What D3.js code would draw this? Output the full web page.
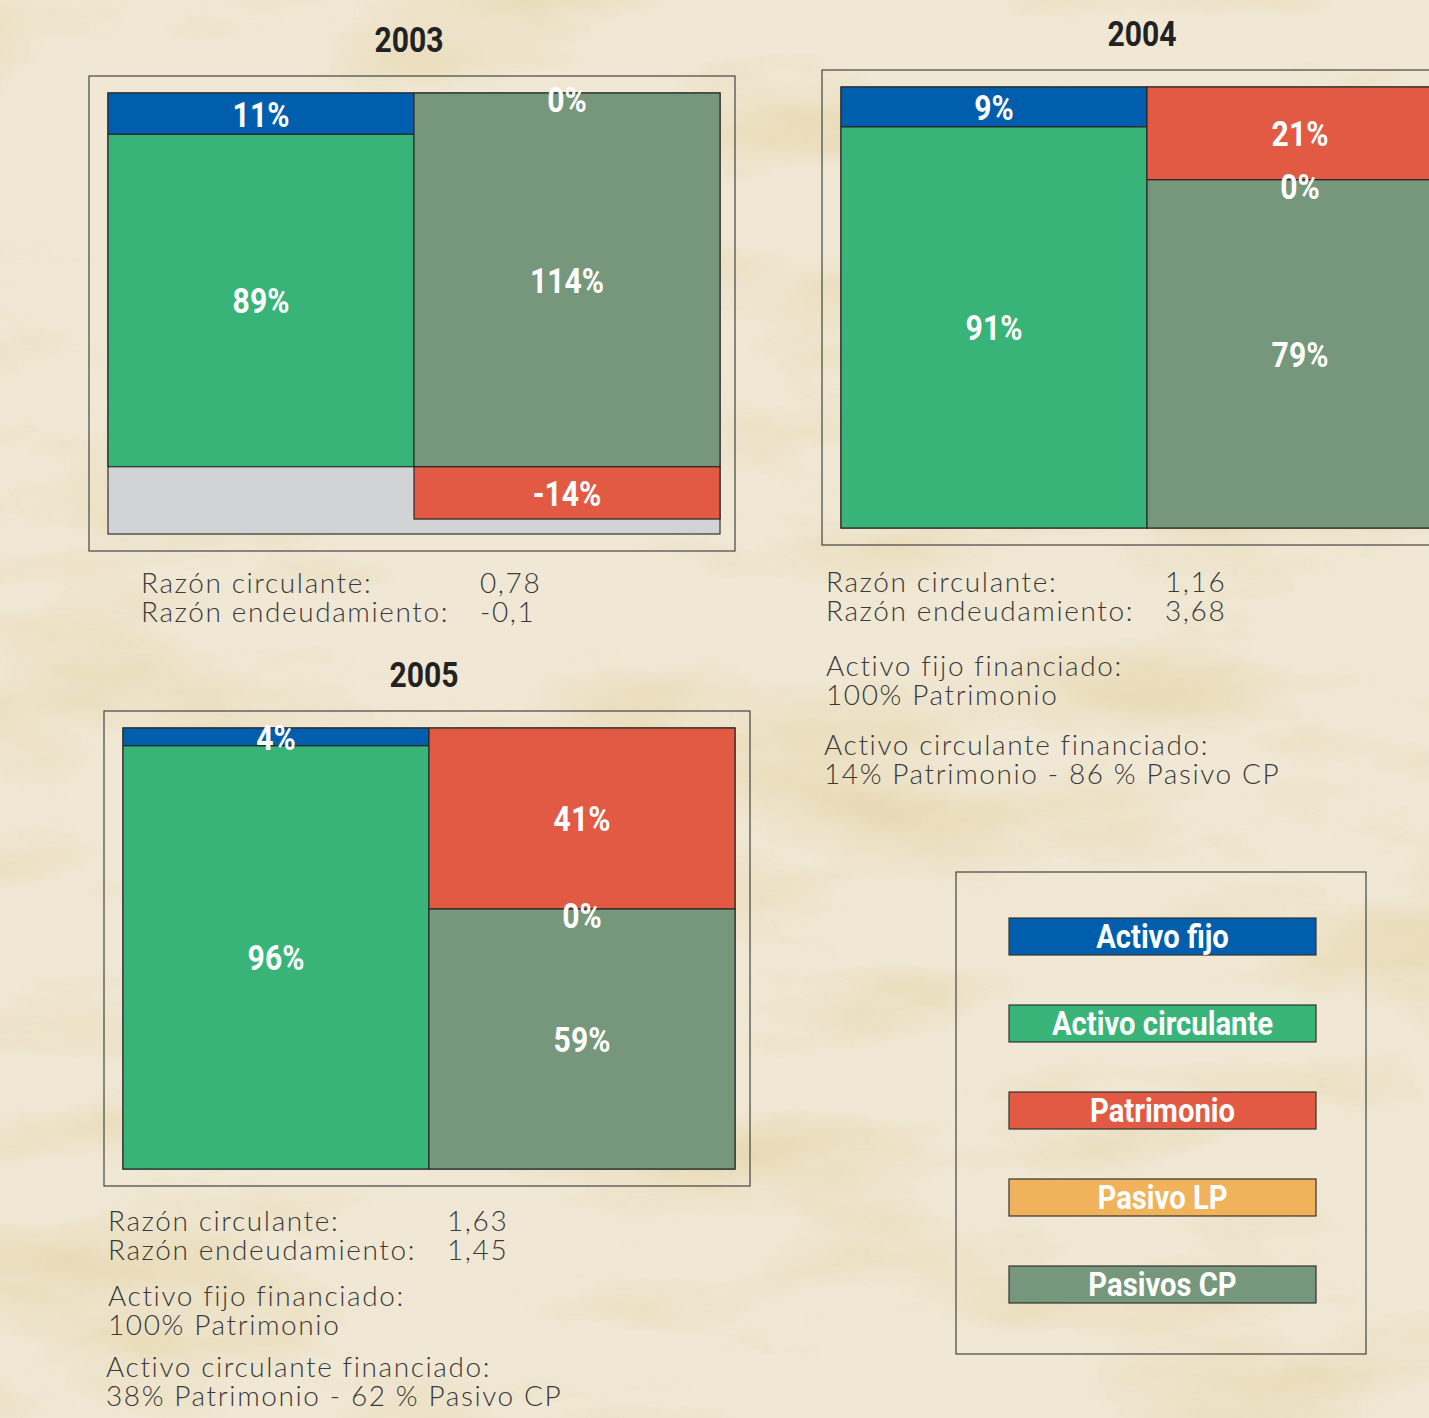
<!DOCTYPE html>
<html>
<head>
<meta charset="utf-8">
<script src="https://cdn.jsdelivr.net/npm/d3@7"></script>
<style>
  body { margin: 0; background: #efe6d2; overflow: hidden; }
  .cond { font-family: "Roboto", "Liberation Sans", sans-serif; font-weight: bold; }
  .body { font-family: "Lato", "Open Sans", sans-serif; font-weight: 300; fill: #3a3a3a; letter-spacing: 1.6px; font-size: 28px; }
</style>
</head>
<body>
<div id="chart"></div>
<script>
// data
const years = ["2003", "2004", "2005"];
const categories = ["Activo fijo", "Activo circulante", "Patrimonio", "Pasivo LP", "Pasivos CP"];
const activoFijo = [11, 9, 4];
const activoCirculante = [89, 91, 96];
const patrimonio = [-14, 21, 41];
const pasivoLP = [0, 0, 0];
const pasivosCP = [114, 79, 59];
const axisMin = [-18, 0, 0];
const razonCirculante = ["0,78", "1,16", "1,63"];
const razonEndeudamiento = ["-0,1", "3,68", "1,45"];
const fijoFinanciado = [null, "100% Patrimonio", "100% Patrimonio"];
const circulanteFinanciado = [null, "14% Patrimonio - 86 % Pasivo CP", "38% Patrimonio - 62 % Pasivo CP"];

const colors = {
  "Activo fijo": "#005eac",
  "Activo circulante": "#38b479",
  "Patrimonio": "#e25a43",
  "Pasivo LP": "#f0b35c",
  "Pasivos CP": "#76977b"
};

const width = 1429, height = 1418;
const boxW = 646, boxH = 475, inL = 19, inT = 17, plotW = 612, plotH = 441;
const panels = [
  {x: 89, y: 76, tx: 141, ty: 593, g1: 84, g2: 163},
  {x: 822, y: 70, tx: 826, ty: 592, g1: 84, g2: 163},
  {x: 104, y: 711, tx: 108, ty: 1231, g1: 75, g2: 146}
];
const squeeze = 0.86;

const svg = d3.select("#chart").append("svg")
  .attr("width", width)
  .attr("height", height);

// parchment background
const defs = svg.append("defs");
const f = defs.append("filter").attr("id", "paper")
  .attr("x", 0).attr("y", 0).attr("width", "100%").attr("height", "100%");
f.append("feTurbulence").attr("type", "fractalNoise")
  .attr("baseFrequency", "0.003 0.009").attr("numOctaves", 4).attr("seed", 11);
f.append("feColorMatrix").attr("type", "matrix")
  .attr("values", "0 0 0 0 0.80  0 0 0 0 0.69  0 0 0 0 0.44  0 0 0 2.6 -1.2");
svg.append("rect").attr("width", width).attr("height", height).attr("fill", "#f0e8d5");
svg.append("rect").attr("width", width).attr("height", height)
  .attr("filter", "url(#paper)").attr("opacity", 0.85);

function condText(sel, x, y, size, fill, txt) {
  return sel.append("text").attr("class", "cond")
    .attr("transform", `translate(${x},${y}) scale(${squeeze},1)`)
    .attr("text-anchor", "middle")
    .style("font-size", size + "px").style("fill", fill)
    .text(txt);
}

function block(sel, x, y, rows) {
  const t = sel.append("text").attr("class", "body").attr("x", x).attr("y", y);
  rows.forEach((r, k) => t.append("tspan").attr("x", x).attr("dy", k ? 29 : 0).text(r));
}

const columns = [
  {name: "Activo", keys: ["Activo circulante", "Activo fijo"]},
  {name: "Pasivo", keys: ["Pasivos CP", "Pasivo LP", "Patrimonio"]}
];

years.forEach((year, i) => {
  const p = panels[i];
  const g = svg.append("g");
  const values = {
    "Activo fijo": activoFijo[i],
    "Activo circulante": activoCirculante[i],
    "Patrimonio": patrimonio[i],
    "Pasivo LP": pasivoLP[i],
    "Pasivos CP": pasivosCP[i]
  };

  condText(g, p.x + boxW / 2 - 3, p.y - 24, 35, "#222", year);

  g.append("rect")
    .attr("x", p.x).attr("y", p.y).attr("width", boxW).attr("height", boxH)
    .style("fill", "none").style("stroke", "#444").style("stroke-width", 1.2);

  const px = p.x + inL, py = p.y + inT;
  const x = d3.scaleBand().domain(columns.map(c => c.name)).range([px, px + plotW]);
  const y = d3.scaleLinear().domain([axisMin[i], 100]).range([py + plotH, py]).clamp(true);

  g.append("rect")
    .attr("x", px).attr("y", py).attr("width", plotW).attr("height", plotH)
    .style("fill", "#d2d3d5").style("stroke", "#333").style("stroke-width", 1.2);

  const labels = [];
  columns.forEach(col => {
    const stack = d3.stack().keys(col.keys).offset(d3.stackOffsetDiverging)([values]);
    let prevTop = 0;
    stack.forEach(s => {
      const d = s[0];
      const v = values[s.key];
      const cx = x(col.name) + x.bandwidth() / 2;
      if (v !== 0) {
        g.append("rect")
          .attr("x", x(col.name)).attr("width", x.bandwidth())
          .attr("y", y(Math.max(d[0], d[1])))
          .attr("height", Math.abs(y(d[0]) - y(d[1])))
          .style("fill", colors[s.key])
          .style("stroke", "#2a2a2a").style("stroke-width", 1.2);
        labels.push({x: cx, y: (y(d[0]) + y(d[1])) / 2 + 13, t: v + "%"});
        if (v > 0) prevTop = d[1];
      } else {
        labels.push({x: cx, y: y(prevTop) + 19, t: v + "%"});
      }
    });
  });

  labels.forEach(d => condText(g, d.x, d.y, 35, "#fff", d.t));

  // ratios and notes
  block(g, p.tx, p.ty, ["Razón circulante:", "Razón endeudamiento:"]);
  block(g, p.tx + 339, p.ty, [razonCirculante[i], razonEndeudamiento[i]]);
  if (fijoFinanciado[i]) {
    block(g, p.tx, p.ty + p.g1, ["Activo fijo financiado:", fijoFinanciado[i]]);
    block(g, p.tx - 2, p.ty + p.g2, ["Activo circulante financiado:", circulanteFinanciado[i]]);
  }
});

// legend
const lg = svg.append("g");
lg.append("rect").attr("x", 956).attr("y", 872).attr("width", 410).attr("height", 482)
  .style("fill", "none").style("stroke", "#444").style("stroke-width", 1.2);
const ly = d3.scalePoint().domain(categories).range([918, 1266]);
categories.forEach(c => {
  lg.append("rect").attr("x", 1009).attr("y", ly(c)).attr("width", 307).attr("height", 37)
    .style("fill", colors[c]).style("stroke", "#333").style("stroke-width", 1.2);
  condText(lg, 1009 + 307 / 2, ly(c) + 30, 34, "#fff", c);
});
</script>
</body>
</html>
